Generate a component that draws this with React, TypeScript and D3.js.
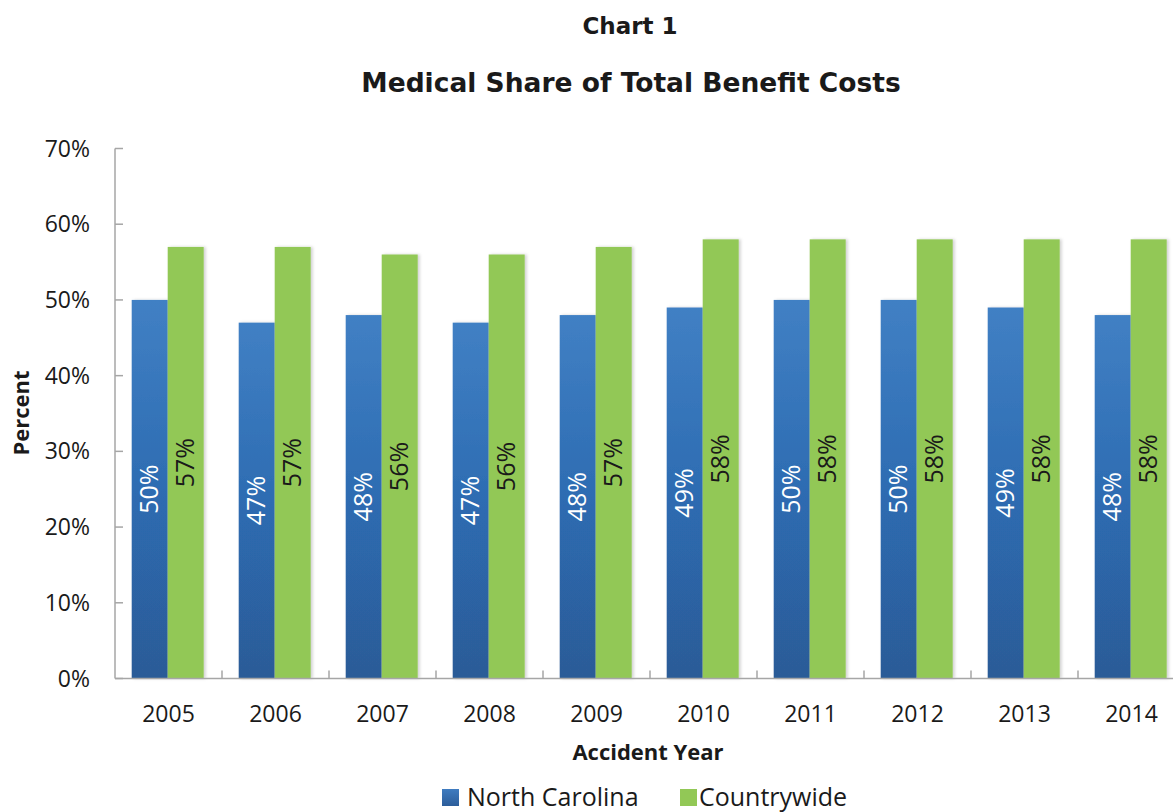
import React from "react";
import * as d3 from "d3";

const years = ["2005", "2006", "2007", "2008", "2009", "2010", "2011", "2012", "2013", "2014"];
const northCarolina = [50, 47, 48, 47, 48, 49, 50, 50, 49, 48];
const countrywide = [57, 57, 56, 56, 57, 58, 58, 58, 58, 58];
const yTicks = [0, 10, 20, 30, 40, 50, 60, 70];

const W = 1173;
const H = 812;
const left = 115;
const y0 = 678.5;
const yTop = 148.5;

export default function App() {
  const x = d3.scaleBand<string>().domain(years).range([left, left + 1070]).padding(0);
  const y = d3.scaleLinear().domain([0, 70]).range([y0, yTop]);
  const bw = 36;
  const off = 16.7;
  const font = "'Open Sans', 'Noto Sans', sans-serif";
  const titleFont = "'DejaVu Sans', Verdana, sans-serif";
  const axisColor = "#a6a6a6";

  return (
    <svg width={W} height={H} style={{ position: "absolute", left: 0, top: 0, background: "#fff" }}>
      <defs>
        <linearGradient id="blueGrad" x1="0" y1="0" x2="0" y2="1">
          <stop offset="0%" stopColor="#4180c4" />
          <stop offset="50%" stopColor="#2d6cb2" />
          <stop offset="100%" stopColor="#2c5b97" />
        </linearGradient>
        <linearGradient id="legBlue" x1="0" y1="0" x2="0" y2="1">
          <stop offset="0%" stopColor="#3f7cc0" />
          <stop offset="100%" stopColor="#2c5d9a" />
        </linearGradient>
        <filter id="shadow" x="-20%" y="-5%" width="140%" height="110%">
          <feDropShadow dx="2" dy="0" stdDeviation="1.5" floodColor="#000" floodOpacity="0.18" />
        </filter>
      </defs>

      <text x={630} y={34} textAnchor="middle" fontFamily={titleFont} fontWeight="bold" fontSize={23} fill="#1a1a1a">
        Chart 1
      </text>
      <text x={631} y={92} textAnchor="middle" fontFamily={titleFont} fontWeight="bold" fontSize={26.5} fill="#1a1a1a">
        Medical Share of Total Benefit Costs
      </text>

      {/* y axis */}
      <line x1={left} x2={left} y1={yTop} y2={y0} stroke={axisColor} strokeWidth={1.5} />
      {yTicks.map((t) => (
        <g key={t}>
          <line x1={left} x2={left + 8} y1={y(t)} y2={y(t)} stroke={axisColor} strokeWidth={1.5} />
          <text x={90} y={y(t)} dy="0.35em" textAnchor="end" fontFamily={font} fontSize={23} fill="#1a1a1a">
            {t}%
          </text>
        </g>
      ))}

      {/* bars */}
      {years.map((yr, i) => {
        const bx = (x(yr) as number) + off;
        const hb = y(northCarolina[i]);
        const hg = y(countrywide[i]);
        return (
          <g key={yr}>
            <rect x={bx} y={hb} width={bw} height={y0 - hb} fill="url(#blueGrad)" filter="url(#shadow)" />
            <rect x={bx + bw} y={hg} width={bw} height={y0 - hg} fill="#92c856" filter="url(#shadow)" />
          </g>
        );
      })}

      {/* x axis */}
      <line x1={left} x2={W} y1={y0} y2={y0} stroke={axisColor} strokeWidth={1.5} />
      {years.map((yr, i) =>
        i > 0 ? (
          <line key={"t" + yr} x1={x(yr) as number} x2={x(yr) as number} y1={y0} y2={y0 - 8} stroke={axisColor} strokeWidth={1.5} />
        ) : null
      )}

      {/* labels */}
      {years.map((yr, i) => {
        const bx = (x(yr) as number) + off;
        const cb = (y(northCarolina[i]) + y0) / 2;
        const cg = (y(countrywide[i]) + y0) / 2;
        return (
          <g key={"l" + yr}>
            <text transform={`translate(${bx + bw / 2},${cb}) rotate(-90)`} dy="0.35em" textAnchor="middle" fontFamily={font} fontSize={25} fill="#ffffff">
              {northCarolina[i]}%
            </text>
            <text transform={`translate(${bx + bw * 1.5},${cg}) rotate(-90)`} dy="0.35em" textAnchor="middle" fontFamily={font} fontSize={25} fill="#1a1a1a">
              {countrywide[i]}%
            </text>
            <text x={(x(yr) as number) + x.bandwidth() / 2} y={714} dy="0.35em" textAnchor="middle" fontFamily={font} fontSize={23} fill="#1a1a1a">
              {yr}
            </text>
          </g>
        );
      })}

      <text x={648} y={752} dy="0.35em" textAnchor="middle" fontFamily={font} fontWeight="bold" fontSize={22} fill="#1a1a1a">
        Accident Year
      </text>
      <text transform={`translate(21,413) rotate(-90)`} dy="0.35em" textAnchor="middle" fontFamily={font} fontWeight="bold" fontSize={22} fill="#1a1a1a">
        Percent
      </text>

      {/* legend */}
      <rect x={442} y={789} width={17} height={17} fill="url(#legBlue)" />
      <text x={467} y={797} dy="0.35em" fontFamily={font} fontSize={25} fill="#1a1a1a">
        North Carolina
      </text>
      <rect x={680} y={789} width={17} height={17} fill="#92c856" />
      <text x={699} y={797} dy="0.35em" fontFamily={font} fontSize={25} fill="#1a1a1a">
        Countrywide
      </text>
    </svg>
  );
}
